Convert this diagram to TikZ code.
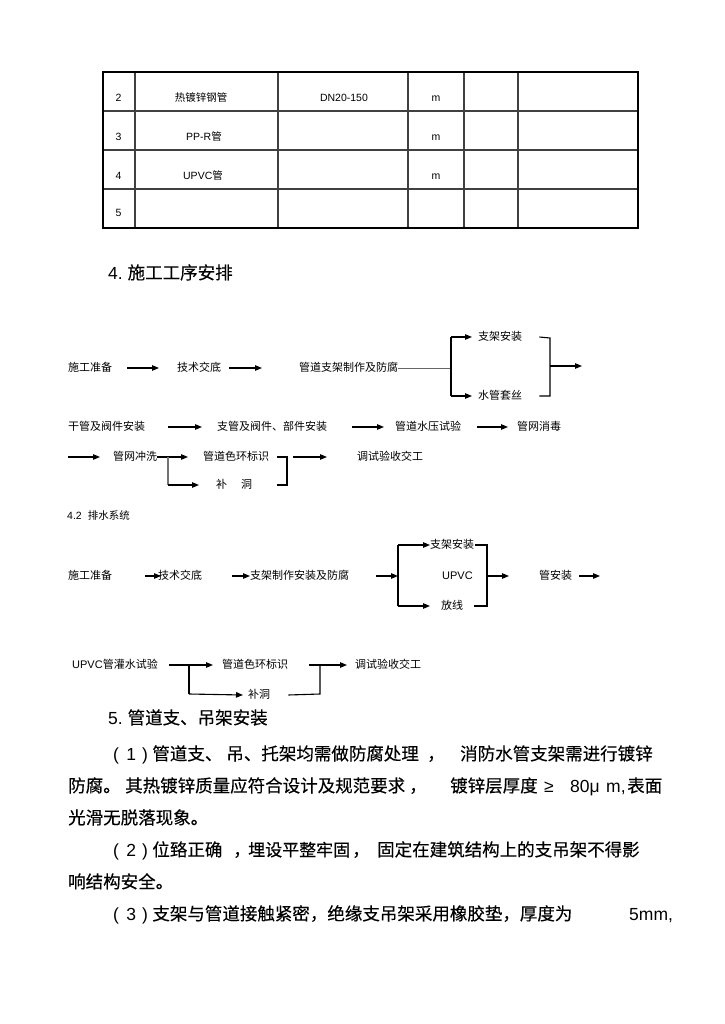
\documentclass[tikz,border=0pt]{standalone}
\usepackage{fontspec}
\setmainfont{Noto Sans CJK SC}
\newfontfamily\bodyf{Noto Sans CJK SC}[FakeBold=0.3]
\newfontfamily\lat{Liberation Sans}
\usetikzlibrary{arrows.meta}
\newcommand{\parnum}[1]{{\lat (\hspace{7.3pt}#1\hspace{6pt})}\hspace{4.5pt}}
\begin{document}
\begin{tikzpicture}[x=1pt,y=-1pt,
  ft/.style={anchor=west,inner sep=0pt,font=\fontsize{11}{13}\selectfont,text height=9.4pt,text depth=1.6pt},
  bt/.style={anchor=west,inner sep=0pt,font=\fontsize{17.5}{20}\selectfont\bodyf,text height=14.8pt,text depth=2.6pt},
  tt/.style={anchor=center,inner sep=0pt,font=\fontsize{10.5}{12}\selectfont,text height=9pt,text depth=1.5pt},
  ln/.style={line width=1.1pt,black},
  thinln/.style={line width=0.7pt,black!60},
  arr/.style={-{Triangle[length=7pt,width=5.5pt]},line width=1.1pt,black},
  tbl/.style={line width=1.1pt,black!75}]
\useasboundingbox (0,0) rectangle (724,1024);
\fill[white] (0,0) rectangle (724,1024);

% ---------- table ----------
\foreach \xx in {135,278,408,464,518} \draw[tbl] (\xx,72) -- (\xx,228);
\foreach \yy in {111,150,189} \draw[tbl] (103,\yy) -- (638,\yy);
\draw[line width=1.1pt] (103,72) rectangle (638,228);
\node[tt] (n2) at (118.5,98) {\lat 2};
\node[tt] (m2) at (201,98) {热镀锌钢管};
\node[tt] (s2) at (344,98) {\lat DN20-150};
\node[tt] (u2) at (436,98) {\lat m};
\node[tt] (n3) at (118.5,137) {\lat 3};
\node[tt] (m3) at (204,137) {{\lat PP-R}管};
\node[tt] (u3) at (436,137) {\lat m};
\node[tt] (n4) at (118.5,176) {\lat 4};
\node[tt] (m4) at (203,176) {{\lat UPVC}管};
\node[tt] (u4) at (436,176) {\lat m};
\node[tt] (n5) at (118.5,213) {\lat 5};

% ---------- heading 4 ----------
\node[bt] (h4) at (108,273) {{\lat 4.\ }施工工序安排};

% ---------- flow 1 ----------
\node[ft] (a1) at (68,368) {施工准备};
\node[ft] (a2) at (177,368) {技术交底};
\node[ft] (a3) at (299,368) {管道支架制作及防腐};
\node[ft] (a4) at (478,337) {支架安装};
\node[ft] (a5) at (478,396) {水管套丝};
\coordinate (j0) at (451,368);
\coordinate (j1) at (451,337);
\coordinate (j2) at (451,396);
\coordinate (k1) at (550,338);
\coordinate (k2) at (550,396);
\coordinate (k0) at (550,366);
\coordinate (o1) at (582,366);
\draw[arr] ([xshift=15pt]a1.east) -- ([xshift=-18pt]a2.west);
\draw[arr] ([xshift=8pt]a2.east) -- ([xshift=-37pt]a3.west);
\draw[thinln] (a3.east) -- (j0);
\draw[ln] (j1) -- (j2);
\draw[arr] (j1) -- ([xshift=-6pt]a4.west);
\draw[arr] (j2) -- ([xshift=-6pt]a5.west);
\draw[ln] ([xshift=17pt]a4.east) -- (k1) -- (k2) -- ([xshift=17pt]a5.east);
\draw[arr] (k0) -- (o1);

% ---------- flow 2 ----------
\node[ft] (b1) at (68,427) {干管及阀件安装};
\node[ft] (b2) at (217,427) {支管及阀件、部件安装};
\node[ft] (b3) at (395,427) {管道水压试验};
\node[ft] (b4) at (517,427) {管网消毒};
\draw[arr] ([xshift=23pt]b1.east) -- ([xshift=-15pt]b2.west);
\draw[arr] ([xshift=25pt]b2.east) -- ([xshift=-11pt]b3.west);
\draw[arr] ([xshift=16pt]b3.east) -- ([xshift=-9pt]b4.west);

% ---------- flow 3 ----------
\coordinate (c0) at (68,457);
\node[ft] (c1) at (113,457) {管网冲洗};
\node[ft] (c2) at (203,457) {管道色环标识};
\node[ft] (c3) at (216,485) {补\hspace{14pt}洞};
\node[ft] (c4) at (357,457) {调试验收交工};
\coordinate (cb1) at (168,457);
\coordinate (cb2) at (168,485);
\coordinate (cr1) at (287,457);
\coordinate (cr2) at (287,485);
\draw[arr] (c0) -- ([xshift=-13pt]c1.west);
\draw[arr] (c1.east) -- ([xshift=-15pt]c2.west);
\draw[line width=1.4pt,black!55] (cb1) -- (cb2);
\draw[arr] (cb2) -- ([xshift=-17pt]c3.west);
\draw[ln] ([xshift=8pt]c2.east) -- (cr1) -- (cr2) -- ([xshift=25pt]c3.east);
\draw[arr] ([xshift=24pt]c2.east) -- ([xshift=-30pt]c4.west);

% ---------- 4.2 ----------
\node[ft,font=\fontsize{10.5}{12}\selectfont] (s42) at (67,516) {{\lat 4.2}\hspace{6pt}排水系统};

% ---------- flow 4 ----------
\node[ft] (d1) at (68,576) {施工准备};
\node[ft] (d2) at (158,576) {技术交底};
\node[ft] (d3) at (250,576) {支架制作安装及防腐};
\node[ft] (d4) at (430,545) {支架安装};
\node[ft] (d5) at (442,576) {\lat UPVC};
\node[ft] (d6) at (441,606) {放线};
\node[ft] (d7) at (539,576) {管安装};
\coordinate (v0) at (398,576);
\coordinate (v1) at (398,545);
\coordinate (v2) at (398,606);
\coordinate (w1) at (487,545);
\coordinate (w2) at (487,606);
\coordinate (w0) at (487,576);
\coordinate (d8) at (600,576);
\draw[arr] ([xshift=33pt]d1.east) -- ([xshift=3pt]d2.west);
\draw[arr] ([xshift=30pt]d2.east) -- (d3.west);
\draw[arr] ([xshift=27pt]d3.east) -- (v0);
\draw[ln] (v1) -- (v2);
\draw[arr] (v1) -- (d4.west);
\draw[arr] (v2) -- ([xshift=-11pt]d6.west);
\draw[ln] ([xshift=1pt]d4.east) -- (w1) -- (w2) -- ([xshift=11pt]d6.east);
\draw[arr] (w0) -- ([xshift=-30pt]d7.west);
\draw[arr] ([xshift=7pt]d7.east) -- (d8);

% ---------- flow 5 ----------
\node[ft] (e1) at (72,665) {{\lat UPVC}管灌水试验};
\node[ft] (e2) at (222,665) {管道色环标识};
\node[ft] (e3) at (248,695) {补洞};
\node[ft] (e4) at (355,665) {调试验收交工};
\coordinate (f1) at (189,665);
\coordinate (f2) at (189,694);
\coordinate (g1) at (320,694);
\coordinate (g2) at (320,666);
\draw[arr] ([xshift=11pt]e1.east) -- ([xshift=-9pt]e2.west);
\draw[ln] (f1) -- (f2);
\draw[arr] (f2) -- ([xshift=-5pt]e3.west);
\draw[ln] ([xshift=18pt]e3.east) -- (g1) -- (g2);
\draw[arr] ([xshift=21pt]e2.east) -- ([xshift=-8pt]e4.west);

% ---------- section 5 text ----------
\node[bt] (p5) at (108,718) {{\lat 5.\ }管道支、吊架安装};
\node[bt] (l1a) at (113,754) {\parnum{1}管道支、\hspace{4pt}吊、托架均需做防腐处理};
\node[bt] (l1c) at (427,754) {，};
\node[bt] (l1b) at (460,754) {消防水管支架需进行镀锌};
\node[bt] (l2a) at (68,786) {防腐。};
\node[bt] (l2b) at (125,786) {其热镀锌质量应符合设计及规范要求};
\node[bt] (l2h) at (409,786) {，};
\node[bt] (l2c) at (450,786) {镀锌层厚度};
\node[bt] (l2d) at (544,786) {\lat ≥};
\node[bt] (l2e) at (570,786) {\lat 80μ};
\node[bt] (l2f) at (606,786) {\lat m,};
\node[bt] (l2g) at (627,786) {表面};
\node[bt] (l3) at (68,818) {光滑无脱落现象。};
\node[bt] (l4a) at (113,850) {\parnum{2}位臵正确};
\node[bt] (l4d) at (233,850) {，};
\node[bt,font=\fontsize{17}{20}\selectfont\bodyf] (l4b) at (248,850) {埋设平整牢固};
\node[bt] (l4e) at (352,850) {，};
\node[bt] (l4c) at (377,850) {固定在建筑结构上的支吊架不得影};
\node[bt] (l5) at (68,882) {响结构安全。};
\node[bt] (l6a) at (113,914) {\parnum{3}支架与管道接触紧密，绝缘支吊架采用橡胶垫，厚度为};
\node[bt] (l6b) at (629,914) {\lat 5mm,};
\end{tikzpicture}
\end{document}
